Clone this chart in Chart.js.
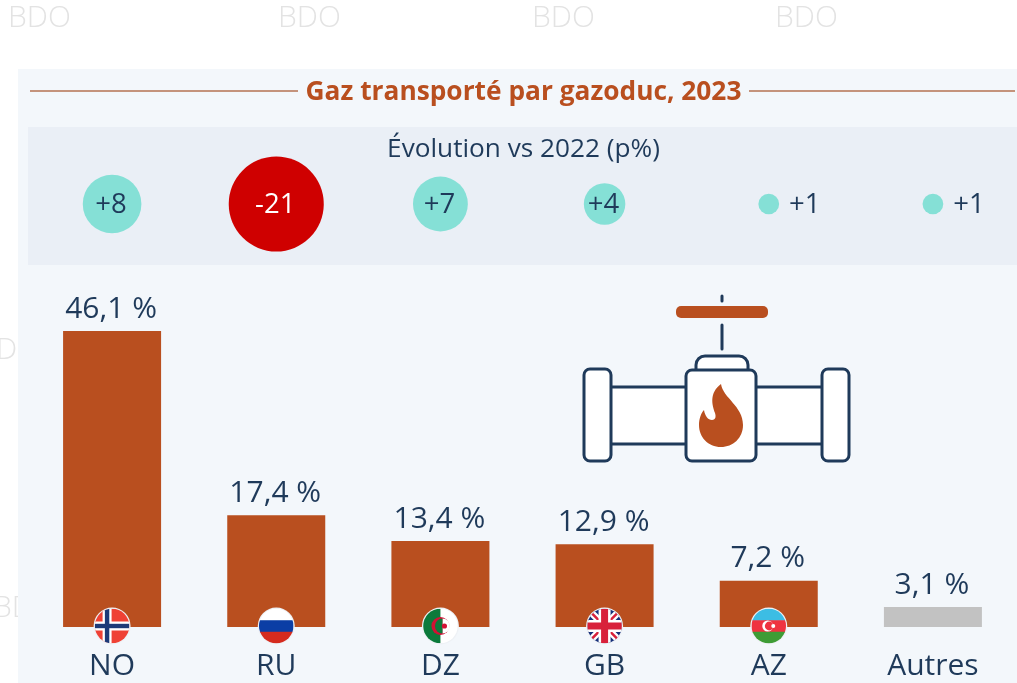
<!DOCTYPE html>
<html>
<head>
<meta charset="utf-8">
<title>Gaz transporté par gazoduc, 2023</title>
<script src="https://cdn.jsdelivr.net/npm/chart.js@4"></script>
<style>
  html, body { margin: 0; padding: 0; background: #fff; overflow: hidden; }
  #wrap { position: relative; width: 1017px; height: 683px; }
</style>
</head>
<body>
<div id="wrap"><canvas id="myChart" width="1017" height="683"></canvas></div>
<script>
const categories = ['NO', 'RU', 'DZ', 'GB', 'AZ', 'Autres'];
const shares = [46.1, 17.4, 13.4, 12.9, 7.2, 3.1];
const shareLabels = ['46,1 %', '17,4 %', '13,4 %', '12,9 %', '7,2 %', '3,1 %'];
const evolution = [8, -21, 7, 4, 1, 1];
const evolutionLabels = ['+8', '-21', '+7', '+4', '+1', '+1'];
const titleText = 'Gaz transporté par gazoduc, 2023';
const subtitleText = 'Évolution vs 2022 (p%)';

const rust = '#b94f1f';
const navy = '#1f3a5a';
const font = '"Open Sans", sans-serif';
const ctx = document.getElementById('myChart');

// flags, drawn in a unit circle box centered on 0,0
function stripes(c, r, colors) {
  const h = 2 * r / colors.length;
  colors.forEach((col, i) => {
    c.fillStyle = col;
    c.fillRect(-r, -r + i * h, 2 * r, h + 0.5);
  });
}
const flags = {
  NO(c, r) {
    c.fillStyle = '#ef4135';
    c.fillRect(-r, -r, 2 * r, 2 * r);
    c.fillStyle = '#fff';
    c.fillRect(-r, -4.5, 2 * r, 9);
    c.fillRect(-9.5, -r, 9, 2 * r);
    c.fillStyle = '#1d3a78';
    c.fillRect(-r, -2.2, 2 * r, 4.4);
    c.fillRect(-7.2, -r, 4.4, 2 * r);
  },
  RU(c, r) { stripes(c, r, ['#ffffff', '#0b3ea5', '#d52b1e']); },
  DZ(c, r) {
    c.fillStyle = '#fff';
    c.fillRect(-r, -r, 2 * r, 2 * r);
    c.fillStyle = '#0b7a3b';
    c.fillRect(-r, -r, r, 2 * r);
    // crescent and star
    c.fillStyle = '#d21034';
    c.beginPath();
    c.arc(0, 0, 9, 0, Math.PI * 2);
    c.fill();
    c.fillStyle = '#fff';
    c.beginPath();
    c.arc(2, 0, 7.5, -Math.PI / 2, Math.PI / 2);
    c.fill();
    c.fillStyle = '#0b7a3b';
    c.beginPath();
    c.arc(2, 0, 7.5, Math.PI / 2, Math.PI * 1.5);
    c.fill();
    c.fillStyle = '#d21034';
    c.beginPath();
    c.arc(4, 0, 2.6, 0, Math.PI * 2);
    c.fill();
  },
  GB(c, r) {
    c.fillStyle = '#16307a';
    c.fillRect(-r, -r, 2 * r, 2 * r);
    c.lineCap = 'butt';
    c.strokeStyle = '#fff';
    c.lineWidth = 7;
    c.beginPath();
    c.moveTo(-r, -r); c.lineTo(r, r);
    c.moveTo(r, -r); c.lineTo(-r, r);
    c.stroke();
    c.strokeStyle = '#d8213b';
    c.lineWidth = 2.5;
    c.stroke();
    c.fillStyle = '#fff';
    c.fillRect(-r, -6, 2 * r, 12);
    c.fillRect(-6, -r, 12, 2 * r);
    c.fillStyle = '#d8213b';
    c.fillRect(-r, -3.5, 2 * r, 7);
    c.fillRect(-3.5, -r, 7, 2 * r);
  },
  AZ(c, r) {
    stripes(c, r, ['#3cbde4', '#ef3340', '#3e9c35']);
    c.fillStyle = '#fff';
    c.beginPath();
    c.arc(-1, 0, 5.5, 0, Math.PI * 2);
    c.fill();
    c.fillStyle = '#ef3340';
    c.beginPath();
    c.arc(0.5, 0, 4.4, 0, Math.PI * 2);
    c.fill();
    c.fillStyle = '#fff';
    c.beginPath();
    c.arc(4.5, 0, 2, 0, Math.PI * 2);
    c.fill();
  }
};

function rounded(c, x, y, w, h, r) {
  c.beginPath();
  c.roundRect(x, y, w, h, r);
  c.fill();
  c.stroke();
}

function drawValve(c) {
  c.save();
  c.strokeStyle = navy;
  c.fillStyle = '#fff';
  c.lineWidth = 3;
  c.lineCap = 'round';
  c.beginPath();
  c.moveTo(722, 296); c.lineTo(722, 301);
  c.moveTo(722, 325); c.lineTo(722, 349);
  c.stroke();
  // pipe sections
  c.fillRect(611, 387, 76, 57);
  c.fillRect(755, 387, 68, 57);
  c.beginPath();
  c.moveTo(611, 387); c.lineTo(687, 387);
  c.moveTo(611, 444); c.lineTo(687, 444);
  c.moveTo(755, 387); c.lineTo(823, 387);
  c.moveTo(755, 444); c.lineTo(823, 444);
  c.stroke();
  rounded(c, 584, 369, 27, 92, 6);
  rounded(c, 822, 369, 27, 92, 6);
  rounded(c, 696, 356, 52, 24, [9, 9, 0, 0]);
  rounded(c, 686, 370, 70, 91, 6);
  c.fillStyle = rust;
  c.beginPath();
  c.roundRect(676, 306, 92, 12, 5);
  c.fill();
  // flame
  c.beginPath();
  c.moveTo(721, 384);
  c.bezierCurveTo(723, 398, 743, 406, 743, 425);
  c.bezierCurveTo(743, 438, 733, 447, 721, 447);
  c.bezierCurveTo(708, 447, 699, 437, 699, 425);
  c.bezierCurveTo(699, 419, 701, 413, 704, 410);
  c.bezierCurveTo(705, 416, 708, 420, 712, 420);
  c.bezierCurveTo(716, 420, 716, 416, 715, 413);
  c.bezierCurveTo(712, 405, 709, 393, 721, 384);
  c.fill();
  c.restore();
}

// panels, rule lines and watermarks go behind the marks
const backdrop = {
  id: 'backdrop',
  beforeDraw(chart) {
    const c = chart.ctx;
    c.save();
    c.fillStyle = '#fff';
    c.fillRect(0, 0, 1017, 683);
    c.fillStyle = '#e3e3e3';
    c.font = '300 30px ' + font;
    c.textBaseline = 'middle';
    c.textAlign = 'left';
    [[8, 18], [278, 18], [532, 18], [775, 18]].forEach(p => c.fillText('BDO', p[0], p[1]));
    c.fillText('D', -4, 350);
    c.fillText('BD', -7, 608);
    c.fillStyle = '#f3f7fb';
    c.fillRect(18, 69, 999, 614);
    c.fillStyle = '#eaeff6';
    c.fillRect(28, 127, 989, 138);
    c.strokeStyle = '#c4937c';
    c.lineWidth = 2;
    c.beginPath();
    c.moveTo(30, 91); c.lineTo(298, 91);
    c.moveTo(749, 91); c.lineTo(1015, 91);
    c.stroke();
    c.fillStyle = rust;
    c.font = '700 26.3px ' + font;
    c.textAlign = 'center';
    c.fillText(titleText, 523.5, 93);
    c.fillStyle = navy;
    c.font = '400 26.2px ' + font;
    c.fillText(subtitleText, 523.5, 150);
    drawValve(c);
    c.restore();
  }
};

// value labels, bubble labels and round flags
const overlay = {
  id: 'overlay',
  afterDatasetsDraw(chart) {
    const c = chart.ctx;
    const bars = chart.getDatasetMeta(0).data;
    const dots = chart.getDatasetMeta(1).data;
    c.save();
    c.textAlign = 'center';
    c.textBaseline = 'middle';
    bars.forEach((bar, i) => {
      c.fillStyle = navy;
      c.font = '400 30px ' + font;
      c.fillText(shareLabels[i], bar.x - 1, bar.y - 22);

      const dot = dots[i];
      const r = dot.options.radius;
      c.font = '400 27.5px ' + font;
      if (r > 15) {
        c.fillStyle = evolution[i] < 0 ? '#fff' : navy;
        c.fillText(evolutionLabels[i], dot.x - 1, dot.y + 1);
      } else {
        c.fillStyle = navy;
        c.textAlign = 'left';
        c.fillText(evolutionLabels[i], dot.x + r + 10, dot.y + 1);
        c.textAlign = 'center';
      }

      const draw = flags[categories[i]];
      if (draw) {
        const base = chart.scales.y.getPixelForValue(0) - 1;
        c.save();
        c.translate(bar.x, base);
        c.fillStyle = '#eef1f5';
        c.beginPath();
        c.arc(0, 0, 18.5, 0, Math.PI * 2);
        c.fill();
        c.beginPath();
        c.arc(0, 0, 17.3, 0, Math.PI * 2);
        c.clip();
        draw(c, 17.3);
        c.restore();
      }
    });
    c.restore();
  }
};

new Chart(ctx, {
  data: {
    labels: categories,
    datasets: [{
      type: 'bar',
      data: shares,
      backgroundColor: categories.map(n => n === 'Autres' ? '#c2c2c2' : rust),
      barPercentage: 0.597,
      categoryPercentage: 1,
      order: 2
    }, {
      type: 'bubble',
      yAxisID: 'yRow',
      data: evolution.map((v, i) => ({ x: categories[i], y: 0.846 })),
      backgroundColor: evolution.map(v => v < 0 ? '#cf0000' : '#85e0d6'),
      borderWidth: 0,
      hoverRadius: 0,
      radius: c => 10.37 * Math.sqrt(Math.abs(evolution[c.dataIndex])),
      order: 1
    }]
  },
  options: {
    responsive: false,
    animation: false,
    events: [],
    layout: { autoPadding: false, padding: { left: 30, right: 2, top: 127, bottom: -14 } },
    plugins: { legend: { display: false }, tooltip: { enabled: false } },
    scales: {
      x: {
        type: 'category',
        grid: { display: false },
        border: { display: false },
        ticks: { color: navy, font: { family: font, size: 30 }, padding: 13, maxRotation: 0, autoSkip: false }
      },
      y: { display: false, min: 0, max: 77.88 },
      yRow: { type: 'linear', axis: 'y', display: false, min: 0, max: 1 }
    }
  },
  plugins: [backdrop, overlay]
});
</script>
</body>
</html>
